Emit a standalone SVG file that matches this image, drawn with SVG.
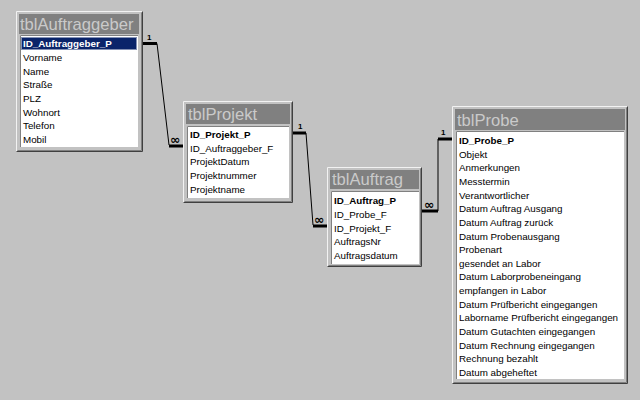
<svg xmlns="http://www.w3.org/2000/svg" width="640" height="400" viewBox="0 0 640 400">
<style>
.bg{fill:#c2c2c2}
.frame{fill:#c2c2c2}
.hl{stroke:#f2f2f2;stroke-width:1;fill:none}
.sh{stroke:#404040;stroke-width:1;fill:none}
.sh2{stroke:#808080;stroke-width:1;fill:none}
.title{fill:#808080}
.ttext{font-family:"Liberation Sans",Arial,sans-serif;font-size:16.6px;fill:#cacaca}
.list{fill:#ffffff}
.row{font-family:"Liberation Sans",Arial,sans-serif;font-size:9.8px;fill:#000}
.key{font-family:"Liberation Sans",Arial,sans-serif;font-size:9.8px;font-weight:bold;fill:#000}
.sel{fill:#0a246a}
.selt{font-family:"Liberation Sans",Arial,sans-serif;font-size:9.8px;font-weight:bold;fill:#fff}
.thick{stroke:#000;stroke-width:3;fill:none}
.thin{stroke:#000;stroke-width:1;fill:none}
.lbl{font-family:"Liberation Sans",Arial,sans-serif;font-size:8px;font-weight:bold;fill:#000}
.inf{font-family:"DejaVu Sans",sans-serif;font-size:12.5px;font-weight:bold;fill:#000}
</style>
<rect class="bg" x="0" y="0" width="640" height="400"/>

<g id="connectors">
  <path class="thick" d="M143,43.5 H157"/>
  <path class="thin" d="M157,43.5 L169,145"/>
  <path class="thick" d="M169,146 H183"/>
  <text class="lbl" x="147" y="40">1</text>
  <text class="inf" x="170" y="144">∞</text>

  <path class="thick" d="M293,133 H306"/>
  <path class="thin" d="M306,133 L313,225"/>
  <path class="thick" d="M313,226 H327"/>
  <text class="lbl" x="298" y="129">1</text>
  <text class="inf" x="314" y="224">∞</text>

  <path class="thick" d="M438,139 H452"/>
  <path class="thin" d="M438,139 V211"/>
  <path class="thick" d="M422,211 H438"/>
  <text class="lbl" x="441" y="135">1</text>
  <text class="inf" x="424" y="209">∞</text>
</g>

<g id="tblAuftraggeber">
  <rect class="frame" x="16" y="11" width="127" height="141"/>
  <path class="hl" d="M16.5,151.5 V11.5 H142.5"/>
  <path class="sh" d="M16.5,151.5 H142.5 V11.5"/>
  <path class="sh2" d="M17.5,150.5 H141.5 V12.5"/>
  <rect class="title" x="19" y="14" width="120" height="20"/>
  <text class="ttext" x="20" y="30">tblAuftraggeber</text>
  <rect class="list" x="20" y="35" width="118" height="112"/>
  <path class="sh2" d="M20.5,147 V35.5 H138"/>
  <rect class="sel" x="21" y="37" width="116" height="13"/>
  <rect x="21.5" y="37.5" width="115" height="12" fill="none" stroke="#ffffff" stroke-width="1" stroke-dasharray="1,1"/>
  <text class="selt" x="23" y="47">ID_Auftraggeber_P</text>
  <text class="row" x="23" y="61">Vorname</text>
  <text class="row" x="23" y="75">Name</text>
  <text class="row" x="23" y="88">Straße</text>
  <text class="row" x="23" y="102">PLZ</text>
  <text class="row" x="23" y="116">Wohnort</text>
  <text class="row" x="23" y="129">Telefon</text>
  <text class="row" x="23" y="143">Mobil</text>
</g>

<g id="tblProjekt">
  <rect class="frame" x="183" y="101" width="110" height="102"/>
  <path class="hl" d="M183.5,202.5 V101.5 H292.5"/>
  <path class="sh" d="M183.5,202.5 H292.5 V101.5"/>
  <path class="sh2" d="M184.5,201.5 H291.5 V102.5"/>
  <rect class="title" x="186" y="104" width="104" height="20"/>
  <text class="ttext" x="188" y="120">tblProjekt</text>
  <rect class="list" x="187" y="126" width="102" height="72"/>
  <path class="sh2" d="M187.5,198 V126.5 H289"/>
  <text class="key" x="190" y="138">ID_Projekt_P</text>
  <text class="row" x="190" y="152">ID_Auftraggeber_F</text>
  <text class="row" x="190" y="165">ProjektDatum</text>
  <text class="row" x="190" y="179">Projektnummer</text>
  <text class="row" x="190" y="193">Projektname</text>
</g>

<g id="tblAuftrag">
  <rect class="frame" x="327" y="167" width="95" height="100"/>
  <path class="hl" d="M327.5,266.5 V167.5 H421.5"/>
  <path class="sh" d="M327.5,266.5 H421.5 V167.5"/>
  <path class="sh2" d="M328.5,265.5 H420.5 V168.5"/>
  <rect class="title" x="330" y="170" width="89" height="19"/>
  <text class="ttext" x="332" y="185">tblAuftrag</text>
  <rect class="list" x="331" y="191" width="88" height="73"/>
  <path class="sh2" d="M331.5,264 V191.5 H419"/>
  <text class="key" x="334" y="204">ID_Auftrag_P</text>
  <text class="row" x="334" y="218">ID_Probe_F</text>
  <text class="row" x="334" y="232">ID_Projekt_F</text>
  <text class="row" x="334" y="245">AuftragsNr</text>
  <text class="row" x="334" y="259">Auftragsdatum</text>
</g>

<g id="tblProbe">
  <rect class="frame" x="452" y="106" width="176" height="278"/>
  <path class="hl" d="M452.5,383.5 V106.5 H627.5"/>
  <path class="sh" d="M452.5,383.5 H627.5 V106.5"/>
  <path class="sh2" d="M453.5,382.5 H626.5 V107.5"/>
  <rect class="title" x="455" y="109" width="170" height="21"/>
  <text class="ttext" x="457" y="126">tblProbe</text>
  <rect class="list" x="456" y="131" width="168" height="248"/>
  <path class="sh2" d="M456.5,379 V131.5 H624"/>
  <text class="key" x="459" y="144">ID_Probe_P</text>
  <text class="row" x="459" y="158">Objekt</text>
  <text class="row" x="459" y="171">Anmerkungen</text>
  <text class="row" x="459" y="185">Messtermin</text>
  <text class="row" x="459" y="199">Verantwortlicher</text>
  <text class="row" x="459" y="212">Datum Auftrag Ausgang</text>
  <text class="row" x="459" y="226">Datum Auftrag zurück</text>
  <text class="row" x="459" y="240">Datum Probenausgang</text>
  <text class="row" x="459" y="253">Probenart</text>
  <text class="row" x="459" y="267">gesendet an Labor</text>
  <text class="row" x="459" y="280">Datum Laborprobeneingang</text>
  <text class="row" x="459" y="294">empfangen in Labor</text>
  <text class="row" x="459" y="308">Datum Prüfbericht eingegangen</text>
  <text class="row" x="459" y="321">Laborname Prüfbericht eingegangen</text>
  <text class="row" x="459" y="335">Datum Gutachten eingegangen</text>
  <text class="row" x="459" y="349">Datum Rechnung eingegangen</text>
  <text class="row" x="459" y="362">Rechnung bezahlt</text>
  <text class="row" x="459" y="376">Datum abgeheftet</text>
</g>
</svg>
